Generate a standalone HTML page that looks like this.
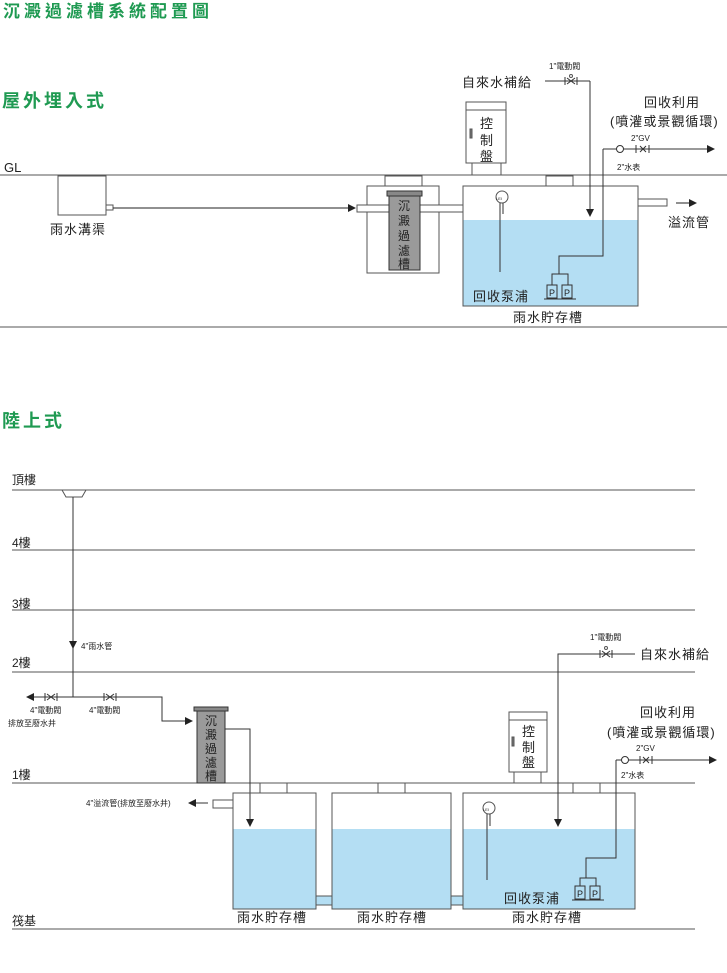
<!DOCTYPE html>
<html><head><meta charset="utf-8"><style>
html,body{margin:0;padding:0;background:#fff;}
svg{display:block;}
text{font-family:"Liberation Sans","Noto Sans CJK TC",sans-serif;fill:#222;}
.g{fill:#1f9a52;font-weight:bold;}
</style></head><body>
<svg width="727" height="973" viewBox="0 0 727 973" xmlns="http://www.w3.org/2000/svg">
<defs>
<marker id="ar" markerWidth="8" markerHeight="8" refX="7" refY="4" orient="auto" markerUnits="userSpaceOnUse"><path d="M0,0 L8,4 L0,8 z" fill="#222"/></marker>
</defs>
<g stroke="#555" fill="none" stroke-width="1">
<!-- TOP SECTION -->
<line x1="0" y1="175" x2="727" y2="175"/>
<line x1="0" y1="327" x2="727" y2="327"/>
<rect x="58" y="176" width="48" height="39"/>
<rect x="106" y="205" width="7" height="5"/>
<line x1="113" y1="208" x2="355" y2="208" marker-end="url(#ar)" stroke="#222"/>
<!-- filter -->
<rect x="367" y="186" width="72" height="87"/>
<rect x="385" y="176" width="37" height="10"/>
<rect x="357" y="205" width="106" height="7" fill="#fff"/>
<rect x="389" y="195" width="31" height="75" fill="#9a9a9a" stroke="#333"/>
<rect x="387" y="191" width="35" height="5" fill="#888" stroke="#333"/>
<!-- tank -->
<rect x="463" y="220" width="175" height="86" fill="#b4def3" stroke="none"/>
<rect x="463" y="186" width="175" height="120"/>
<rect x="546" y="176" width="27" height="10" fill="#fff"/>
<rect x="638" y="199" width="29" height="7" fill="#fff"/>
<line x1="676" y1="203" x2="696" y2="203" marker-end="url(#ar)" stroke="#222"/>
<!-- control panel -->
<rect x="466" y="102" width="40" height="61" fill="#fff"/>
<line x1="466" y1="110" x2="506" y2="110"/>
<rect x="472" y="163" width="29" height="12"/>
<rect x="470" y="129" width="2" height="9" fill="#777"/>
<!-- supply -->
<line x1="545" y1="81" x2="590" y2="81" stroke="#333"/>
<path d="M565,77 v8 M577,77 v8 M567,78 L575,84 M567,84 L575,78" stroke="#333"/>
<circle cx="571" cy="76" r="1.5"/>
<line x1="590" y1="81" x2="590" y2="216" stroke="#333" marker-end="url(#ar)"/>
<!-- LEI -->
<circle cx="502" cy="197" r="6" fill="#fff"/>
<line x1="500" y1="203" x2="500" y2="272" stroke="#333"/>
<line x1="503" y1="203" x2="503" y2="214" stroke="#333"/>
<!-- pump -->
<path d="M603,149 V256 H559 V274" stroke="#333"/>
<path d="M552,285 V274 H568 V285" stroke="#333"/>
<rect x="547" y="285" width="10" height="13" fill="#b4def3" stroke="#333"/>
<rect x="562" y="285" width="10" height="13" fill="#b4def3" stroke="#333"/>
<line x1="544" y1="299" x2="576" y2="299" stroke="#333"/>
<line x1="603" y1="149" x2="714" y2="149" stroke="#333" marker-end="url(#ar)"/>
<circle cx="620" cy="149" r="3.5" fill="#fff" stroke="#333"/>
<path d="M636,145 v8 M649,145 v8 M640,146 L646,152 M640,152 L646,146" stroke="#333"/>

<!-- BOTTOM SECTION -->
<line x1="12" y1="490" x2="695" y2="490"/>
<line x1="12" y1="550" x2="695" y2="550"/>
<line x1="12" y1="610" x2="695" y2="610"/>
<line x1="12" y1="672" x2="695" y2="672"/>
<line x1="12" y1="783" x2="695" y2="783"/>
<line x1="12" y1="929" x2="695" y2="929"/>
<path d="M62,490 H86 L82,497 H66 Z" fill="#fff"/>
<line x1="73" y1="497" x2="73" y2="697" stroke="#333"/>
<path d="M69,641 L77,641 L73,649 Z" fill="#222" stroke="none"/>
<line x1="73" y1="697" x2="27" y2="697" stroke="#333" marker-end="url(#ar)"/>
<path d="M73,697 H162 V721 H192" stroke="#333" marker-end="url(#ar)"/>
<path d="M45,693 v8 M57,693 v8 M47,694 L55,700 M47,700 L55,694" stroke="#333"/>
<path d="M104,693 v8 M116,693 v8 M106,694 L114,700 M106,700 L114,694" stroke="#333"/>
<!-- filter -->
<rect x="197" y="711" width="28" height="72" fill="#9a9a9a" stroke="#333"/>
<rect x="194" y="707" width="34" height="4" fill="#888" stroke="#333"/>
<path d="M225,729 H250 V826" stroke="#333" marker-end="url(#ar)"/>
<!-- tanks -->
<rect x="233" y="829" width="83" height="80" fill="#b4def3" stroke="none"/>
<rect x="332" y="829" width="119" height="80" fill="#b4def3" stroke="none"/>
<rect x="463" y="829" width="172" height="80" fill="#b4def3" stroke="none"/>
<rect x="233" y="793" width="83" height="116"/>
<rect x="332" y="793" width="119" height="116"/>
<rect x="463" y="793" width="172" height="116"/>
<rect x="260" y="783" width="27" height="10" fill="#fff"/>
<rect x="378" y="783" width="27" height="10" fill="#fff"/>
<rect x="573" y="783" width="27" height="10" fill="#fff"/>
<rect x="316" y="896" width="16" height="9" fill="#b4def3"/>
<rect x="451" y="896" width="12" height="9" fill="#b4def3"/>
<rect x="213" y="800" width="20" height="8" fill="#fff"/>
<line x1="208" y1="803" x2="189" y2="803" stroke="#333" marker-end="url(#ar)"/>
<!-- control panel -->
<rect x="509" y="712" width="38" height="60" fill="#fff"/>
<line x1="509" y1="720" x2="547" y2="720"/>
<rect x="514" y="772" width="27" height="11"/>
<rect x="512" y="737" width="2" height="9" fill="#777"/>
<!-- supply -->
<path d="M635,654 H558 V826" stroke="#333" marker-end="url(#ar)"/>
<path d="M600,650 v8 M612,650 v8 M602,651 L610,657 M602,657 L610,651" stroke="#333"/>
<circle cx="606" cy="648" r="1.5"/>
<!-- LEI -->
<circle cx="489" cy="808" r="6" fill="#fff"/>
<line x1="487" y1="814" x2="487" y2="880" stroke="#333"/>
<line x1="490" y1="814" x2="490" y2="826" stroke="#333"/>
<!-- pump -->
<path d="M616,760 V858 H586 V878" stroke="#333"/>
<path d="M580,886 V878 H596 V886" stroke="#333"/>
<rect x="575" y="886" width="10" height="13" fill="#b4def3" stroke="#333"/>
<rect x="590" y="886" width="10" height="13" fill="#b4def3" stroke="#333"/>
<line x1="572" y1="900" x2="604" y2="900" stroke="#333"/>
<line x1="616" y1="760" x2="716" y2="760" stroke="#333" marker-end="url(#ar)"/>
<circle cx="625" cy="760" r="3.5" fill="#fff" stroke="#333"/>
<path d="M640,756 v8 M652,756 v8 M643,757 L649,763 M643,763 L649,757" stroke="#333"/>
</g>

<!-- TEXT TOP -->
<text x="3" y="17" class="g" font-size="17" letter-spacing="4">沉澱過濾槽系統配置圖</text>
<text x="2" y="107" class="g" font-size="18" letter-spacing="3">屋外埋入式</text>
<text x="4" y="172" font-size="13">GL</text>
<text x="50" y="234" font-size="13" letter-spacing="1">雨水溝渠</text>
<g font-size="12">
<text x="398" y="210">沉</text><text x="398" y="225">澱</text><text x="398" y="240">過</text><text x="398" y="255">濾</text><text x="398" y="268">槽</text>
<text x="480" y="128" font-size="13">控</text><text x="480" y="145" font-size="13">制</text><text x="480" y="161" font-size="13">盤</text>
</g>
<text x="462" y="87" font-size="13" letter-spacing="1">自來水補給</text>
<text x="549" y="69" font-size="8">1"電動閥</text>
<text x="644" y="107" font-size="13" letter-spacing="1">回收利用</text>
<text x="610" y="126" font-size="13" letter-spacing="1">(噴灌或景觀循環)</text>
<text x="631" y="141" font-size="8">2"GV</text>
<text x="617" y="170" font-size="8">2"水表</text>
<text x="668" y="227" font-size="13" letter-spacing="1">溢流管</text>
<text x="473" y="301" font-size="13" letter-spacing="1">回收泵浦</text>
<text x="513" y="322" font-size="13" letter-spacing="1">雨水貯存槽</text>
<text x="496" y="200" font-size="4">LEI</text>
<text x="549" y="296" font-size="9">P</text><text x="564" y="296" font-size="9">P</text>

<!-- TEXT BOTTOM -->
<text x="2" y="427" class="g" font-size="18" letter-spacing="3">陸上式</text>
<text x="12" y="484" font-size="12">頂樓</text>
<text x="12" y="547" font-size="12">4樓</text>
<text x="12" y="608" font-size="12">3樓</text>
<text x="12" y="667" font-size="12">2樓</text>
<text x="12" y="779" font-size="12">1樓</text>
<text x="12" y="925" font-size="12">筏基</text>
<text x="81" y="649" font-size="8">4"雨水管</text>
<text x="30" y="713" font-size="8">4"電動閥</text>
<text x="8" y="726" font-size="8">排放至廢水井</text>
<text x="89" y="713" font-size="8">4"電動閥</text>
<text x="86" y="806" font-size="8">4"溢流管(排放至廢水井)</text>
<g font-size="12">
<text x="205" y="725">沉</text><text x="205" y="739">澱</text><text x="205" y="753">過</text><text x="205" y="767">濾</text><text x="205" y="780">槽</text>
<text x="522" y="736" font-size="13">控</text><text x="522" y="752" font-size="13">制</text><text x="522" y="767" font-size="13">盤</text>
</g>
<text x="590" y="640" font-size="8">1"電動閥</text>
<text x="640" y="659" font-size="13" letter-spacing="1">自來水補給</text>
<text x="640" y="717" font-size="13" letter-spacing="1">回收利用</text>
<text x="607" y="737" font-size="13" letter-spacing="1">(噴灌或景觀循環)</text>
<text x="636" y="751" font-size="8">2"GV</text>
<text x="621" y="778" font-size="8">2"水表</text>
<text x="504" y="903" font-size="13" letter-spacing="1">回收泵浦</text>
<text x="237" y="922" font-size="13" letter-spacing="1">雨水貯存槽</text>
<text x="357" y="922" font-size="13" letter-spacing="1">雨水貯存槽</text>
<text x="512" y="922" font-size="13" letter-spacing="1">雨水貯存槽</text>
<text x="483" y="811" font-size="4">LEI</text>
<text x="577" y="897" font-size="9">P</text><text x="592" y="897" font-size="9">P</text>
</svg>
</body></html>
